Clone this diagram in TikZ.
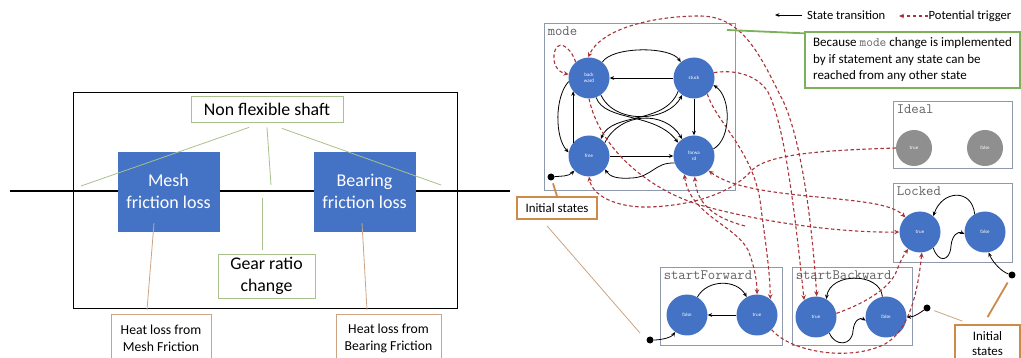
\documentclass[tikz,border=0pt]{standalone}
\usepackage{fontspec}
\setmainfont{Carlito}
\usetikzlibrary{arrows.meta}

\definecolor{lossblue}{HTML}{4472C4}
\definecolor{grpframe}{HTML}{8E9AAB}
\definecolor{trig}{HTML}{A8343A}
\definecolor{sage}{HTML}{A9C08F}
\definecolor{callgreen}{HTML}{7DB05A}
\definecolor{tanline}{HTML}{CBA583}
\definecolor{initbrown}{HTML}{CD8A48}
\definecolor{idealgray}{HTML}{8F8F8F}

\tikzset{
  lossbox/.style={draw=lossblue, fill=lossblue, text=white, minimum width=101pt,
    minimum height=79pt, inner sep=0pt, align=center,
    font=\fontsize{18}{21.5}\selectfont},
  tagbox/.style={draw=sage, line width=0.8pt, fill=white, align=center, inner sep=0pt,
    font=\fontsize{17.8}{21.5}\selectfont},
  heatbox/.style={draw=tanline, line width=0.9pt, fill=white, align=center, inner sep=0pt,
    font=\fontsize{13.7}{17}\selectfont},
  sageline/.style={draw=sage, line width=0.8pt},
  heatline/.style={draw=tanline, line width=0.8pt},
  shaft/.style={draw=black, line width=2.3pt},
  grp/.style={draw=grpframe, line width=0.9pt, inner sep=0pt},
  grplabel/.style={anchor=north west, inner sep=0pt, text=black!62,
    font=\ttfamily\fontsize{14.3}{14.3}\selectfont},
  st/.style={circle, fill=lossblue, minimum size=41pt, inner sep=0pt, text=white,
    align=center, font=\fontsize{5}{5.5}\selectfont},
  idle/.style={st, fill=idealgray, minimum size=36pt},
  trans/.style={draw=black, line width=0.8pt, -{Stealth[length=4.5pt,width=3.8pt]}},
  trigger/.style={draw=trig, line width=1.1pt, dash pattern=on 3.5pt off 2.5pt,
    -{Stealth[length=5pt,width=4.5pt]}},
  trigboth/.style={trigger, {Stealth[length=5pt,width=4.5pt]}-{Stealth[length=5pt,width=4.5pt]}},
  initdot/.style={circle, fill=black, minimum size=7pt, inner sep=0pt},
  initbox/.style={draw=initbrown, line width=1.7pt, fill=white, align=center, inner sep=0pt,
    font=\fontsize{12.9}{15}\selectfont},
  initline/.style={draw=initbrown, line width=1.8pt},
  legendtext/.style={anchor=west, inner sep=0pt, font=\fontsize{12.6}{14}\selectfont},
  notebox/.style={draw=callgreen, line width=1.3pt, fill=white, align=left,
    minimum width=215pt, minimum height=56pt, inner sep=0pt,
    font=\fontsize{13}{16.5}\selectfont},
}

\begin{document}
\begin{tikzpicture}[x=1pt,y=-1pt]
\fill[white] (0,0) rectangle (1021,358);
\clip (0,0) rectangle (1021,358);

% ---------------- gearbox block ----------------
\node[draw, line width=0.8pt, minimum width=384pt, minimum height=216pt, inner sep=0pt]
  (frame) at (265,200) {};
\coordinate (shaftW) at (10,191);
\coordinate (shaftE) at (510,191);
\draw[shaft] (shaftW) -- (shaftE);

\node[lossbox] (mesh) at (168.5,191.5) {Mesh\\friction loss};
\node[lossbox] (bear) at (364.5,191.5) {Bearing\\friction loss};

\node[tagbox, minimum width=152pt, minimum height=26pt] (nfs) at (267,109) {Non flexible shaft};
\coordinate (nfsA) at (81,186);
\coordinate (nfsB) at (271,185);
\coordinate (nfsC) at (441,185);
\draw[sageline] ([xshift=-18pt,yshift=-5pt]nfs.south) -- (nfsA);
\draw[sageline] ([yshift=-5pt]nfs.south) -- (nfsB);
\draw[sageline] ([xshift=15pt,yshift=-6pt]nfs.south) -- (nfsC);

\node[tagbox, minimum width=97pt, minimum height=44pt] (grc) at (266.5,276) {Gear ratio\\change};
\coordinate (grcTop) at (262,198);
\draw[sageline] ([xshift=-4.5pt,yshift=4pt]grc.north) -- (grcTop);

\node[heatbox, minimum width=100pt, minimum height=48pt] (hm) at (161,338.5) {Heat loss from\\Mesh Friction};
\node[heatbox, minimum width=105pt, minimum height=48pt] (hb) at (388.5,338.5) {Heat loss from\\Bearing Friction};
\coordinate (hmTop) at (154,223);
\coordinate (hbTop) at (362,223);
\draw[heatline] ([xshift=-14pt,yshift=4pt]hm.north) -- (hmTop);
\draw[heatline] ([xshift=-21.5pt,yshift=4pt]hb.north) -- (hbTop);

% ---------------- state machines ----------------
\node[grp, minimum width=191pt, minimum height=167pt] (modebox) at (639.5,106.5) {};
\node[grp, minimum width=119pt, minimum height=67pt] (idealbox) at (952.5,134.5) {};
\node[grp, minimum width=119pt, minimum height=79pt] (lockbox) at (952.5,222.5) {};
\node[grp, minimum width=122pt, minimum height=78pt] (sfbox) at (721,306) {};
\node[grp, minimum width=120pt, minimum height=78pt] (sbbox) at (852,306) {};

\node[grplabel] (modelbl) at ([shift={(4pt,-4pt)}]modebox.north west) {mode};
\node[grplabel] (ideallbl) at ([shift={(4pt,-4pt)}]idealbox.north west) {Ideal};
\node[grplabel] (locklbl) at ([shift={(4pt,-4pt)}]lockbox.north west) {Locked};
\node[grplabel] (sflbl) at ([shift={(4pt,-4pt)}]sfbox.north west) {startForward};
\node[grplabel] (sblbl) at ([shift={(4pt,-4pt)}]sbbox.north west) {startBackward};

% states
\node[st] (bw) at (589,78) {back\\ward};
\node[st] (sk) at (694,78) {stuck};
\node[st] (fr) at (589,156) {free};
\node[st] (fw) at (694,156) {forwa\\rd};
\node[idle] (it) at (914,148) {true};
\node[idle] (if) at (985,148) {false};
\node[st] (lt) at (920,232) {true};
\node[st] (lf) at (985,232) {false};
\node[st] (sff) at (687,315) {false};
\node[st] (sft) at (757,315) {true};
\node[st] (sbt) at (816,317) {true};
\node[st] (sbf) at (886,317) {false};

% initial markers
\node[initdot] (d1) at (551,177) {};
\node[initdot] (d2) at (650,340) {};
\node[initdot] (d3) at (927,308) {};
\node[initdot] (d4) at (1012,275) {};

% mode transitions
\draw[trans] (bw.50) .. controls +(10,-16) and +(-10,-16) .. (sk.130);
\draw[trans] (sk.west) -- (bw.east);
\draw[trans] (sk.south) -- (fw.north);
\draw[trans] (fw.20) .. controls +(18,-10) and +(18,12) .. (sk.-20);
\draw[trans] (fr.east) -- (fw.west);
\draw[trans] (fw.200) .. controls (655,162) and (652,177) .. (632,178)
  .. controls (618,179) and (610,177) .. (fr.-40);
\draw[trans] (fr.140) -- (bw.-140);
\draw[trans] (bw.190) .. controls +(-14,15) and +(-14,-15) .. (fr.170);
\draw[trans] (bw.-55) .. controls (615,125) and (668,122) .. (sk.-125);
\draw[trans] (sk.-140) .. controls (665,125) and (612,112) .. (fr.55);
\draw[trans] (fr.40) .. controls (620,112) and (665,110) .. (fw.125);
\draw[trans] (bw.-70) .. controls (605,122) and (655,112) .. (fw.140);

% startForward / startBackward / Locked transitions
\draw[trans] (sff.60) .. controls +(10,-18) and +(-10,-18) .. (sft.120);
\draw[trans] (sft.west) -- (sff.east);
\draw[trans] (sbf.100) .. controls (880,272) and (830,272) .. (sbt.60);
\draw[trans] (sbt.-50) .. controls (835,347) and (852,346) .. (853,331)
  .. controls (854,320) and (860,317) .. (sbf.190);
\draw[trans] (lf.120) .. controls (972,188) and (942,190) .. (lt.50);
\draw[trans] (lt.-50) .. controls (938,263) and (950,262) .. (951,246)
  .. controls (952,235) and (958,231) .. (lf.185);

% initial transitions
\draw[trans] (d1) .. controls +(10,-1) and +(-6,6) .. (fr.-135);
\draw[trans] (d2) .. controls +(10,0) and +(-4,6) .. (sff.-125);
\draw[trans] (d3) .. controls +(-6,4) and +(8,0) .. (sbf.east);
\draw[trans] (d4) .. controls +(-10,-3) and +(4,10) .. (lf.-80);

% potential triggers
\draw[trigger] (bw.130) .. controls (570,45) and (556,38) .. (554,55)
  .. controls (553,65) and (558,72) .. (bw.170);
\draw[trigboth] (sbt.88) .. controls (812,220) and (800,130) .. (780,95)
  .. controls (760,55) and (742,16) .. (700,16)
  .. controls (650,16) and (600,30) .. (bw.92);
\draw[trigger] (sk.15) .. controls (730,70) and (755,72) .. (768,92)
  .. controls (785,125) and (795,215) .. (sbt.125);
\draw[trigger] (sk.-50) .. controls (715,120) and (752,150) .. (760,200)
  .. controls (765,240) and (770,270) .. (sft.50);
\draw[trigboth] (fw.-118) .. controls (690,215) and (735,225) .. (748,250)
  .. controls (754,265) and (757,280) .. (sft.90);
\draw[trigboth] (fw.-45) .. controls (740,195) and (820,195) .. (870,203)
  .. controls (888,206) and (898,210) .. (lt.135);
\draw[trigger] (bw.-90) .. controls (600,150) and (650,190) .. (700,205)
  .. controls (760,222) and (840,233) .. (lt.180);
\draw[trigger] (it.west) .. controls (840,150) and (770,152) .. (752,170)
  .. controls (735,190) and (700,205) .. (650,207)
  .. controls (615,208) and (592,195) .. (fr.-90);
\coordinate (fwTail) at (745,226);
\draw[trigger] (fwTail) .. controls (715,218) and (697,205) .. (fw.-88);
\draw[trigger] (sbt.10) .. controls (860,305) and (890,290) .. (897,270)
  .. controls (900,262) and (902,258) .. (lt.-125);
\draw[trigger] (sft.-45) .. controls (790,352) and (850,362) .. (885,344)
  .. controls (910,330) and (918,290) .. (lt.-85);

% legend
\coordinate (lgS) at (802,15);
\coordinate (lgE) at (775,15);
\draw[trans] (lgS) -- (lgE);
\node[legendtext] (lgT) at (807,15) {State transition};
\coordinate (lgS2) at (928,16);
\coordinate (lgE2) at (899,16);
\draw[trigger] (lgS2) -- (lgE2);
\node[legendtext] (lgT2) at (928.5,16) {Potential trigger};

% note on the mode machine
\node[notebox] (note) at (912.5,60)
  {Because {\ttfamily\fontsize{13}{13}\selectfont\color{black!60}mode} change is implemented\\
   by if statement any state can be\\reached from any other state};
\coordinate (cg) at (727,30);
\draw[draw=callgreen, line width=1.8pt] ([yshift=-2pt]note.north west) -- (cg);

% initial-state callouts
\node[initbox, minimum width=80pt, minimum height=22pt] (il) at (557,208) {Initial states};
\node[initbox, minimum width=65pt, minimum height=37pt] (ir) at (987.5,343.5) {Initial\\states};
\coordinate (ilTip) at (640,333);
\draw[initline, shorten >=3pt] (il.north) -- (d1);
\draw[heatline] ([xshift=-10pt,yshift=-6pt]il.south) -- (ilTip);
\draw[heatline, shorten >=4pt] ([xshift=-25pt,yshift=3pt]ir.north) -- (d3);
\draw[initline, shorten >=5pt] ([yshift=7pt]ir.north) -- (d4);
\end{tikzpicture}
\end{document}
